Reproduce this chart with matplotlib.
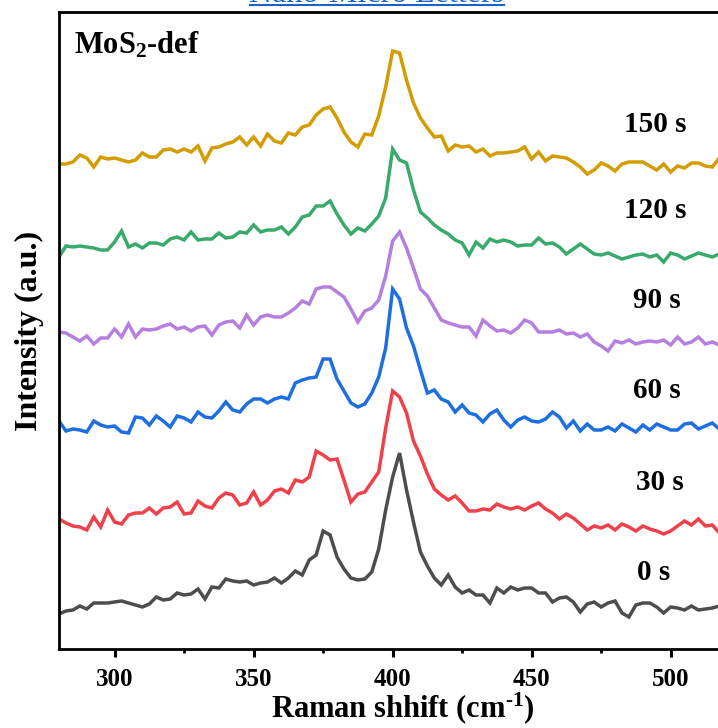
import numpy as np
import matplotlib
matplotlib.use("Agg")
import matplotlib.pyplot as plt
from matplotlib.lines import Line2D
from matplotlib.ticker import MultipleLocator

# Raman shift grid (cm-1), 2.5 cm-1 sampling
shift = np.arange(280, 518, 2.5)

# stacked intensities (a.u.)
int_0s = [
    35, 38, 39, 43, 40, 46, 46, 46, 47, 48,
    46, 44, 42, 45, 52, 49, 50, 56, 54, 55,
    60, 50, 62, 61, 70, 68, 67, 68, 64, 66,
    67, 71, 66, 71, 78, 74, 89, 94, 118, 114,
    92, 80, 71, 69, 70, 77, 100, 139, 172, 196,
    159, 127, 97, 83, 71, 64, 74, 62, 56, 59,
    54, 54, 46, 61, 56, 62, 59, 61, 61, 56,
    56, 47, 51, 52, 47, 37, 45, 47, 42, 46,
    48, 36, 32, 44, 46, 46, 42, 36, 42, 41,
    39, 43, 39, 40, 41, 43]
int_30s = [
    130, 126, 123, 122, 119, 132, 122, 139, 127, 125,
    134, 136, 136, 141, 135, 141, 142, 147, 135, 136,
    148, 143, 141, 151, 156, 154, 144, 146, 157, 144,
    149, 158, 160, 156, 169, 167, 172, 198, 194, 189,
    190, 169, 147, 155, 157, 167, 177, 221, 258, 252,
    236, 208, 193, 175, 160, 154, 149, 153, 146, 138,
    138, 140, 139, 145, 142, 140, 142, 139, 143, 146,
    140, 136, 130, 135, 131, 125, 119, 123, 121, 124,
    119, 125, 122, 118, 123, 120, 118, 115, 118, 123,
    128, 124, 130, 123, 124, 116]
int_60s = [
    228, 218, 220, 219, 217, 228, 224, 222, 223, 217,
    216, 232, 231, 224, 233, 228, 222, 233, 231, 227,
    237, 232, 231, 238, 247, 239, 237, 245, 250, 250,
    246, 250, 252, 250, 266, 269, 271, 272, 290, 290,
    270, 258, 246, 242, 245, 256, 272, 301, 360, 350,
    321, 303, 279, 256, 259, 250, 247, 237, 244, 236,
    234, 227, 235, 239, 229, 222, 229, 232, 228, 227,
    230, 237, 232, 221, 228, 218, 225, 219, 219, 222,
    218, 225, 221, 217, 224, 219, 225, 222, 219, 219,
    225, 226, 220, 223, 226, 220]
int_90s = [
    317, 316, 312, 308, 313, 305, 311, 311, 320, 312,
    325, 312, 320, 319, 320, 323, 325, 320, 322, 318,
    322, 323, 314, 324, 327, 328, 321, 334, 324, 332,
    334, 332, 332, 336, 341, 348, 345, 360, 362, 362,
    357, 352, 340, 327, 338, 341, 349, 373, 408, 417,
    401, 381, 360, 353, 341, 329, 326, 324, 322, 322,
    313, 329, 323, 318, 319, 316, 321, 329, 326, 317,
    317, 317, 319, 315, 316, 312, 315, 307, 303, 298,
    308, 306, 309, 305, 307, 308, 307, 309, 304, 312,
    305, 307, 312, 305, 307, 304]
int_120s = [
    392, 403, 402, 403, 402, 401, 399, 399, 407, 418,
    402, 405, 401, 406, 406, 404, 410, 412, 409, 417,
    409, 410, 410, 416, 411, 412, 417, 416, 424, 417,
    419, 419, 422, 415, 422, 432, 434, 443, 443, 448,
    435, 424, 415, 421, 418, 425, 433, 451, 500, 489,
    486, 459, 437, 431, 424, 419, 415, 409, 406, 394,
    407, 401, 410, 407, 409, 407, 403, 404, 404, 411,
    405, 406, 402, 395, 400, 405, 400, 395, 394, 396,
    393, 390, 392, 394, 395, 392, 394, 387, 396, 394,
    390, 393, 396, 394, 392, 395]
int_150s = [
    485, 485, 487, 494, 491, 482, 492, 490, 491, 489,
    487, 489, 496, 492, 492, 499, 500, 497, 500, 497,
    503, 488, 501, 502, 505, 507, 512, 504, 512, 503,
    515, 508, 506, 516, 514, 522, 524, 534, 540, 542,
    531, 517, 507, 502, 515, 514, 533, 562, 598, 596,
    569, 546, 531, 521, 512, 513, 498, 504, 502, 503,
    497, 500, 493, 496, 496, 497, 498, 502, 490, 497,
    488, 493, 492, 491, 487, 482, 475, 479, 486, 483,
    478, 485, 487, 487, 487, 483, 479, 485, 477, 483,
    481, 486, 486, 483, 482, 491]

spectra = [int_0s, int_30s, int_60s, int_90s, int_120s, int_150s]
labels = ["0 s", "30 s", "60 s", "90 s", "120 s", "150 s"]
colors = ["#4d4d4d", "#f0404a", "#1d6fe0", "#b57fe0", "#38aa6b", "#d39c00"]
label_x = [494, 496, 495, 495, 494.5, 494.5]
label_y = [76, 166, 259, 349, 439, 524]

plt.rcParams["font.family"] = "Liberation Serif"
plt.rcParams["font.weight"] = "bold"
plt.rcParams["axes.labelweight"] = "bold"
plt.rcParams["mathtext.fontset"] = "custom"
plt.rcParams["mathtext.rm"] = "Liberation Serif:bold"
plt.rcParams["mathtext.it"] = "Liberation Serif:italic:bold"
plt.rcParams["mathtext.bf"] = "Liberation Serif:bold"

# the screenshot crops the right part of the frame away
fig = plt.figure(figsize=(7.18, 7.28), dpi=100)
ax = fig.add_axes([59 / 718, 79 / 728, 686.7 / 718, 637 / 728])

for y, c in zip(spectra, colors):
    ax.plot(shift, y, color=c, lw=2.5, solid_joinstyle="miter")
for lab, lx, ly in zip(labels, label_x, label_y):
    ax.text(lx, ly, lab, ha="center", va="center", fontsize=21)

ax.text(15 / 686.7, 0.948, "MoS$_2$-def", transform=ax.transAxes,
        ha="left", va="center", fontsize=22)

ax.set_xlim(280, 527)
ax.set_ylim(0, 637)
ax.xaxis.set_major_locator(MultipleLocator(50))
ax.xaxis.set_minor_locator(MultipleLocator(25))
ax.set_yticks([])
ax.tick_params(axis="x", which="major", direction="out", length=6,
               width=2.2, labelsize=18, pad=8)
ax.tick_params(axis="x", which="minor", direction="out", length=3, width=2)
for s in ax.spines.values():
    s.set_linewidth(2.0)

ax.set_xlabel(r"Raman shhift (cm$^{\text{-1}}$)", fontsize=22, labelpad=-1)
ax.set_ylabel("Intensity (a.u.)", fontsize=23, labelpad=11)

# journal header, cut off at the top of the screenshot
blue = "#1a62c6"
fig.text(377 / 718, 1 - 2 / 728, "Nano-Micro Letters", ha="center",
         va="baseline", fontsize=23, color=blue, fontweight="normal")
fig.add_artist(Line2D([250 / 718, 504 / 718], [1 - 5 / 728] * 2,
                      transform=fig.transFigure, color=blue, lw=1.5))

fig.savefig("out.png", dpi=100)
